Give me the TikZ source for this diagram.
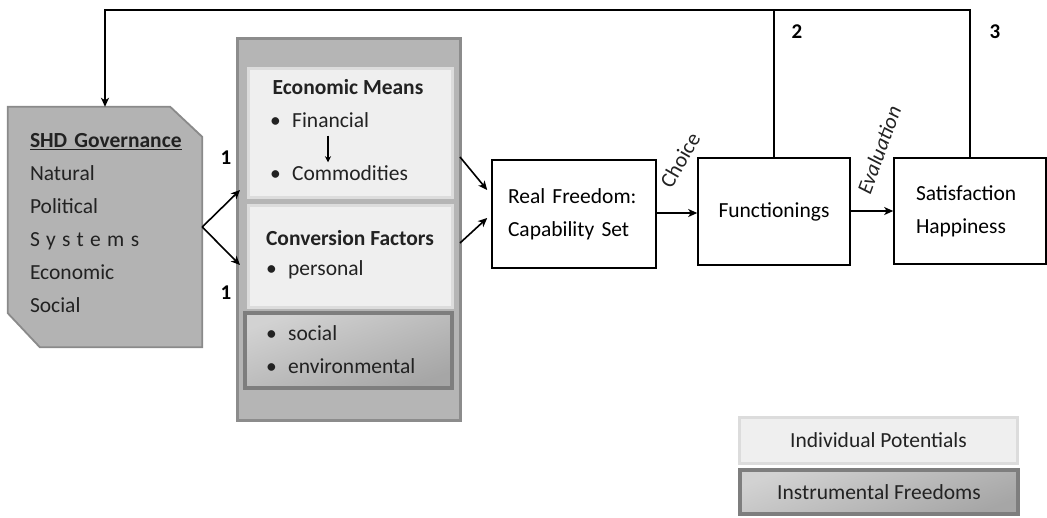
\documentclass[tikz,border=0pt]{standalone}
\usepackage{fontspec}
\setmainfont{Carlito}
\usetikzlibrary{arrows.meta,calc}
\definecolor{shdfill}{HTML}{B3B3B3}
\definecolor{shdline}{HTML}{8A8A8A}
\definecolor{contfill}{HTML}{B5B5B5}
\definecolor{contline}{HTML}{8C8C8C}
\definecolor{lightfill}{HTML}{EFEFEF}
\definecolor{lightline}{HTML}{DCDCDC}
\definecolor{darkline}{HTML}{7E7E7E}
\definecolor{gradtop}{HTML}{D2D2D2}
\definecolor{gradbot}{HTML}{A6A6A6}
\definecolor{txt}{HTML}{222222}
\tikzset{
  arr/.style={line width=1.6pt,-{Stealth[length=9pt,width=8pt,inset=2.5pt]}},
  plain/.style={line width=1.6pt},
  whitebox/.style={draw=black,line width=1.6pt,fill=white,inner sep=0pt},
  lightbox/.style={draw=lightline,line width=3pt,fill=lightfill,inner sep=0pt},
  darkbox/.style={draw=darkline,line width=4pt,top color=gradtop,bottom color=gradbot,shading angle=20,inner sep=0pt},
  lbl/.style={inner sep=0pt,text=txt},
  num/.style={inner sep=0pt,font=\fontsize{21}{24}\selectfont\bfseries},
  blt/.style={inner sep=0pt,anchor=west,text=txt},
}
\newcommand{\bul}[1]{\makebox[22pt][l]{\textbullet}#1}
\begin{document}
\begin{tikzpicture}[x=1pt,y=-1pt,font=\fontsize{21.5}{33}\selectfont]
\useasboundingbox (0,0) rectangle (1047,517);

% SHD governance box (chamfered corners)
\node[inner sep=0pt,minimum width=194pt,minimum height=240pt] (shd) at (105,227) {};
\fill[shdfill,draw=shdline,line width=1.8pt]
  (shd.north west) -- ($(shd.north east)+(-32,0)$) -- ($(shd.north east)+(0,30)$)
  -- (shd.south east) -- ($(shd.south west)+(32,0)$) -- ($(shd.south west)+(0,-34)$) -- cycle;
\node[lbl,align=left,text width=158pt] (shdtext) at (109,223)
  {\textbf{\underline{SHD Governance}}\\Natural\\Political\\{\addfontfeature{LetterSpace=30}Systems}\\Economic\\Social};

% container
\node[draw=contline,line width=3pt,fill=contfill,minimum width=223pt,minimum height=382pt,inner sep=0pt] (cont) at (348.5,229) {};
\node[lightbox,minimum width=204pt,minimum height=129pt] (econ) at (350,132.5) {};
\node[lightbox,minimum width=204pt,minimum height=102pt] (conv) at (350,256) {};
\node[darkbox,minimum width=207pt,minimum height=75pt] (inst) at (348.5,350.5) {};

\node[lbl,font=\fontsize{21.5}{24}\selectfont\bfseries] (econT) at (348,87) {Economic Means};
\node[blt] (fin) at (270,120) {\bul{Financial}};
\node[blt] (com) at (270,173) {\bul{Commodities}};
\coordinate (fx) at (328,0);
\draw[line width=1.5pt,-{Stealth[length=6pt,width=6pt]}] ($(fin.south -| fx)+(0,8)$) -- ($(com.north -| fx)+(0,-3)$);

\node[lbl,font=\fontsize{21.5}{24}\selectfont\bfseries] (convT) at (350,238) {Conversion Factors};
\node[blt] (pers) at (266,270) {\bul{personal}};
\node[blt] (soc) at (266,333) {\bul{social}};
\node[blt] (env) at (266,366) {\bul{environmental}};

% main boxes
\node[whitebox,minimum width=164pt,minimum height=108pt,text width=132pt,align=left] (real) at (574,214) {Real Freedom:\\Capability Set};
\node[whitebox,minimum width=152pt,minimum height=107pt] (func) at (774,211.5) {Functionings};
\node[whitebox,minimum width=152pt,minimum height=106pt,text width=108pt,align=left] (sat) at (970,211) {Satisfaction\\Happiness};

% split arrows from SHD
\coordinate (split) at (shd.east);
\coordinate (up1) at (240,190);
\coordinate (dn1) at (240,265);
\draw[arr] (split) -- (up1);
\draw[arr] (split) -- (dn1);
\node[num] (one1) at (226,158) {1};
\node[num] (one2) at (226,293) {1};

% container to real freedom
\coordinate (c1) at (460,157);
\coordinate (c2) at (460,243);
\draw[arr] (c1) -- ($(real.west)+(-4,-24)$);
\draw[arr] (c2) -- ($(real.west)+(-4,4)$);

% flow
\draw[arr] (real.east |- 0,213) -- (func.west |- 0,213);
\draw[arr] (func.east |- 0,211) -- (sat.west |- 0,211);
\node[lbl,rotate=60] (choice) at (680,160) {Choice};
\node[lbl,rotate=70] (eval) at (879,150) {\textit{Evaluation}};

% feedback loop
\coordinate (top) at (0,10);
\draw[arr] (sat.north) |- (top -| sat.north) -- (top -| shd.north) -- (shd.north);
\draw[plain] (func.north) -- (func.north |- top);
\node[num] (two) at (797,32) {2};
\node[num] (three) at (995,32) {3};

% legend
\node[lightbox,minimum width=278pt,minimum height=46pt,text=txt] (leg1) at (878.5,440.5) {Individual Potentials};
\node[darkbox,minimum width=278pt,minimum height=44pt,text=txt] (leg2) at (879,492) {Instrumental Freedoms};
\end{tikzpicture}
\end{document}
